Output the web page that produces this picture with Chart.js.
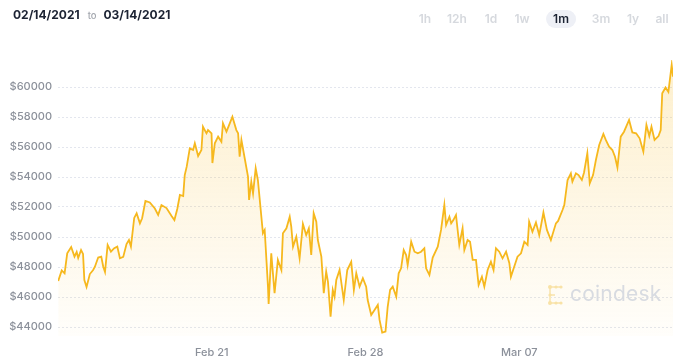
<!DOCTYPE html>
<html>
<head>
<meta charset="utf-8">
<script src="https://cdn.jsdelivr.net/npm/chart.js@4/dist/chart.umd.min.js"></script>
<style>
  html, body { margin: 0; padding: 0; background: #fff; }
  body { width: 690px; height: 360px; position: relative; overflow: hidden; font-family: Inter, "Noto Sans", sans-serif; }
  #chart { position: absolute; left: 0; top: 0; }
  .range { position: absolute; left: 13px; top: 7px; font-size: 12px; font-weight: 700; color: #1c2333; }
  .range .to { font-size: 9.5px; font-weight: 500; color: #a3a7ae; margin: 0 7px 0 8px; }
  .btn { position: absolute; top: 10px; height: 18px; line-height: 18px; font-size: 12px; font-weight: 600; color: #d6d9de; transform: translateX(-50%); }
  .btn.on { color: #1c2333; background: #eef0f6; border-radius: 9px; padding: 0 7px; }
  .mark { position: absolute; left: 546px; top: 284px; }
  .mark span { position: absolute; left: 24px; top: -3px; font-size: 21px; font-weight: 400; color: #d8dbe1; letter-spacing: 0.2px; }
</style>
</head>
<body>
<canvas id="chart" width="690" height="360"></canvas>

<div class="range">02/14/2021<span class="to">to</span>03/14/2021</div>
<div class="btn" style="left:425px">1h</div>
<div class="btn" style="left:457px">12h</div>
<div class="btn" style="left:491px">1d</div>
<div class="btn" style="left:522px">1w</div>
<div class="btn on" style="left:561px">1m</div>
<div class="btn" style="left:601px">3m</div>
<div class="btn" style="left:633px">1y</div>
<div class="btn" style="left:662px">all</div>

<div class="mark">
  <svg width="18" height="22" viewBox="0 0 18 22">
    <g stroke="#fae9bd" stroke-width="2" fill="none">
      <path d="M15 3 H4 V19 H15"/>
      <path d="M4 11 H9"/>
    </g>
    <g fill="#f8e2a6">
      <circle cx="4" cy="3" r="2"/><circle cx="10" cy="3" r="1.6"/><circle cx="15" cy="3" r="1.6"/>
      <circle cx="4" cy="11" r="1.6"/><circle cx="4" cy="19" r="2"/>
      <circle cx="10" cy="19" r="1.6"/><circle cx="15" cy="19" r="1.6"/>
    </g>
  </svg>
  <span>coindesk</span>
</div>

<script>
/* =========================================================
   DATA
========================================================= */
// days since 02/14/2021 00:00
const days = [
  0.01, 0.17, 0.30, 0.42, 0.60, 0.75, 0.85, 0.92, 1.05, 1.14,
  1.20, 1.30, 1.45, 1.60, 1.68, 1.83, 1.97, 2.06, 2.14, 2.26,
  2.41, 2.56, 2.70, 2.82, 2.97, 3.12, 3.23, 3.32, 3.47, 3.58,
  3.73, 3.83, 3.98, 4.18, 4.41, 4.56, 4.71, 4.94, 5.17, 5.30,
  5.43, 5.55, 5.70, 5.77, 5.86, 6.00, 6.15, 6.23, 6.38, 6.53,
  6.60, 6.76, 6.83, 6.99, 7.03, 7.14, 7.29, 7.44, 7.51, 7.67,
  7.82, 7.94, 8.12, 8.20, 8.27, 8.35, 8.50, 8.65, 8.70, 8.80,
  8.88, 9.00, 9.10, 9.33, 9.41, 9.56, 9.59, 9.71, 9.86, 10.01,
  10.17, 10.24, 10.40, 10.55, 10.62, 10.70, 10.85, 11.00, 11.15, 11.30,
  11.42, 11.53, 11.64, 11.76, 11.83, 11.99, 12.10, 12.21, 12.29, 12.41,
  12.51, 12.59, 12.67, 12.82, 13.01, 13.17, 13.35, 13.47, 13.58, 13.73,
  13.88, 14.03, 14.10, 14.26, 14.41, 14.56, 14.64, 14.76, 14.91, 15.01,
  15.12, 15.24, 15.40, 15.51, 15.62, 15.74, 15.85, 15.92, 16.08, 16.23,
  16.38, 16.53, 16.68, 16.76, 16.91, 17.06, 17.29, 17.44, 17.59, 17.67,
  17.82, 17.90, 18.00, 18.12, 18.27, 18.42, 18.50, 18.65, 18.76, 18.88,
  19.03, 19.15, 19.30, 19.41, 19.56, 19.71, 19.83, 19.94, 20.09, 20.24,
  20.40, 20.55, 20.62, 20.77, 20.92, 21.08, 21.23, 21.38, 21.45, 21.60,
  21.76, 21.91, 22.10, 22.26, 22.44, 22.67, 22.77, 22.97, 23.05, 23.20,
  23.35, 23.42, 23.58, 23.70, 23.85, 23.95, 24.10, 24.21, 24.36, 24.49,
  24.64, 24.83, 24.94, 25.09, 25.24, 25.36, 25.47, 25.62, 25.77, 26.00,
  26.15, 26.32, 26.48, 26.65, 26.79, 26.92, 27.02, 27.16, 27.34, 27.44,
  27.51, 27.66, 27.79, 27.94, 28.00
];

const prices = [
  47070, 47770, 47580, 48910, 49330, 48690, 49000, 48600, 49130, 48870,
  47130, 46670, 47530, 47800, 48020, 48630, 48690, 48020, 47670, 49470,
  49020, 49250, 49360, 48580, 48670, 49530, 49800, 49360, 51270, 51580,
  50910, 51250, 52400, 52300, 51900, 51470, 52130, 51930, 51400, 51130,
  51870, 52800, 52730, 54130, 54690, 55910, 55800, 56250, 55400, 55800,
  57350, 56910, 57130, 56910, 54930, 56250, 56690, 56350, 57580, 57020,
  57580, 58020, 57130, 56910, 55350, 56470, 55250, 54020, 52470, 53690,
  52910, 54580, 53800, 50250, 50470, 46690, 45530, 48910, 46250, 48470,
  47800, 50250, 50580, 51350, 50690, 49350, 50020, 48580, 50870, 50130,
  50580, 48800, 51580, 51020, 49800, 48690, 46250, 47690, 47020, 44690,
  46470, 46020, 47130, 47800, 45800, 47800, 48350, 46470, 47580, 46690,
  47250, 46690, 45800, 44800, 45130, 45470, 44470, 43620, 43690, 45350,
  46470, 46690, 46020, 47580, 47910, 49130, 48800, 48130, 49690, 49020,
  48910, 49020, 49250, 47910, 47470, 48630, 49360, 50470, 52130, 50800,
  51350, 50910, 51130, 51470, 49470, 50580, 49130, 49800, 49690, 48470,
  48470, 46800, 47350, 46690, 47800, 48350, 47800, 49250, 49020, 48580,
  49020, 48250, 47350, 48020, 48690, 48910, 49690, 49470, 51020, 50350,
  50970, 50130, 51630, 50470, 49800, 50910, 51070, 51800, 52130, 53800,
  54250, 53690, 54250, 54130, 53800, 54300, 55580, 53580, 54130, 55130,
  56130, 56870, 56470, 56020, 55800, 55350, 54630, 56690, 57020, 57800,
  56970, 56910, 56580, 55690, 57470, 56730, 57350, 56470, 56730, 57130,
  59580, 59970, 59670, 61470, 60690
];

const yTickValues = [44000, 46000, 48000, 50000, 52000, 54000, 56000, 58000, 60000];
const xTickValues = [7, 14, 21];
const xTickLabels = ["Feb 21", "Feb 28", "Mar 07"];

/* =========================================================
   CHART
========================================================= */
const LINE = "#f6b81e";
const TICK = "#8b909a";

function fillGradient(ctx) {
  const area = ctx.chart.chartArea;
  if (!area) return "rgba(247,183,25,0.1)";
  const g = ctx.chart.ctx.createLinearGradient(0, area.top, 0, area.bottom);
  g.addColorStop(0, "rgba(247,183,25,0.22)");
  g.addColorStop(1, "rgba(247,183,25,0.02)");
  return g;
}

new Chart(document.getElementById("chart"), {
  type: "line",
  data: {
    datasets: [{
      data: days.map((d, i) => ({ x: d, y: prices[i] })),
      borderColor: LINE,
      borderWidth: 1.8,
      backgroundColor: fillGradient,
      fill: "start",
      pointRadius: 0,
      tension: 0
    }]
  },
  options: {
    responsive: false,
    animation: false,
    layout: { padding: { left: 0, right: 17, top: 60, bottom: 0 } },
    plugins: { legend: { display: false }, tooltip: { enabled: false } },
    scales: {
      x: {
        type: "linear",
        min: 0,
        max: 28,
        grid: { display: false },
        border: { display: false },
        afterBuildTicks: s => { s.ticks = xTickValues.map(v => ({ value: v })); },
        afterFit: s => { s.height = 24; },
        ticks: {
          padding: 2,
          maxRotation: 0,
          color: TICK,
          font: { family: "Inter", size: 11, weight: 500 },
          callback: v => xTickLabels[xTickValues.indexOf(v)]
        }
      },
      y: {
        min: 43400,
        max: 61800,
        grid: { color: "#e3e6ee", drawTicks: false, lineWidth: 1 },
        border: { display: false, dash: [2, 2] },
        afterBuildTicks: s => { s.ticks = yTickValues.map(v => ({ value: v })); },
        afterFit: s => { s.width = 58; },
        ticks: {
          padding: 6,
          color: TICK,
          font: { family: "Inter", size: 11, weight: 500 },
          callback: v => "$" + v
        }
      }
    }
  }
});
</script>
</body>
</html>
